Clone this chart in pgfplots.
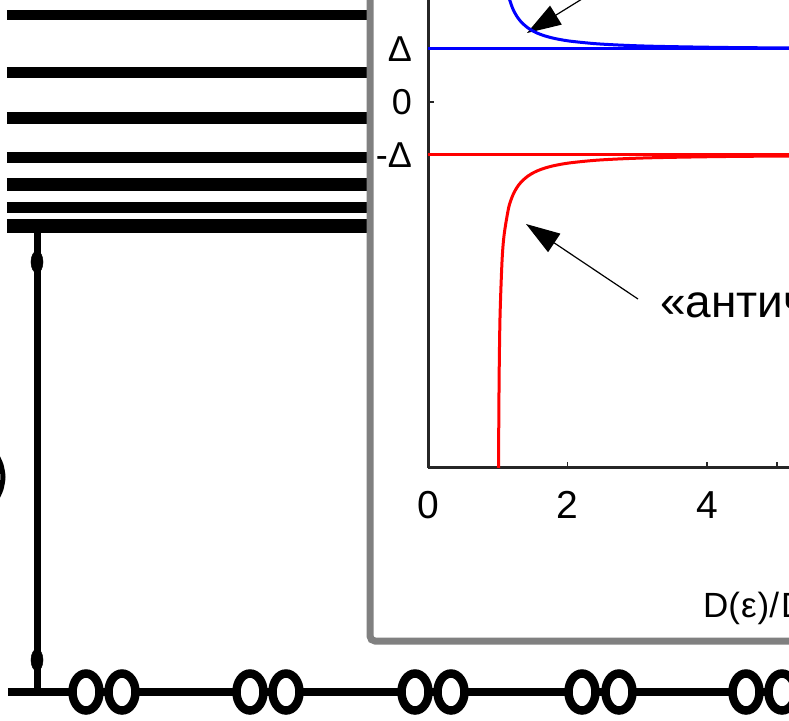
\documentclass[border=0pt]{standalone}
\usepackage{fontspec}
\setmainfont{Liberation Sans}
\usepackage{pgfplots}
\pgfplotsset{compat=1.18}
\usetikzlibrary{arrows.meta}
\definecolor{frame}{RGB}{128,128,128}
\definecolor{pblue}{RGB}{0,0,255}
\definecolor{pred}{RGB}{255,0,0}
\begin{document}
\begin{tikzpicture}
\useasboundingbox (0,0) rectangle (789pt,720pt);
\clip (0,0) rectangle (789pt,720pt);
% background (pixel coordinates)
\begin{axis}[at={(0pt,0pt)}, anchor=south west, scale only axis,
  width=789pt, height=720pt, xmin=0, xmax=789, ymin=0, ymax=720,
  y dir=reverse, axis lines=none, clip=false]
  % energy levels
  \addplot[black, line width=10pt] coordinates {(7,15) (400,15)};
  \addplot[black, line width=11pt] coordinates {(7,72) (400,72)};
  \addplot[black, line width=12pt] coordinates {(7,118) (400,118)};
  \addplot[black, line width=11pt] coordinates {(7,157) (400,157)};
  \addplot[black, line width=13pt] coordinates {(7,184) (400,184)};
  \addplot[black, line width=11pt] coordinates {(7,207) (400,207)};
  \addplot[black, line width=14pt] coordinates {(7,226) (400,226)};
  % vertical line
  \addplot[black, line width=7pt] coordinates {(37,226) (37,692)};
  \addplot[only marks, mark=*, mark size=11pt,
    mark options={fill=black, draw=black, xscale=0.55}]
    coordinates {(37,262) (37,660)};
  % bottom chain
  \addplot[black, line width=8pt] coordinates {(8,692) (800,692)};
  \addplot[only marks, mark=*, mark size=18.5pt,
    mark options={fill=white, draw=black, line width=8.5pt, xscale=0.73}]
    coordinates {(86,692) (122,692) (250,692) (286,692) (415,692) (451,692)
                 (582,692) (619,692) (746,692) (782,692)};
  % partial glyph at left edge
  \addplot[black, line width=5pt, smooth] coordinates {(-3,456) (1,465) (3,477) (1,489) (-3,498)};
  % inset frame
  \addplot[draw=frame, fill=white, line width=7pt, rounded corners=5pt]
    coordinates {(370,-30) (370,641) (830,641) (830,-30)} -- cycle;
  % annotations
  \addplot[black, line width=1.2pt, -{Triangle[length=34pt,width=22pt]}]
    coordinates {(645,-40) (527,33)};
  \addplot[black, line width=1.2pt, -{Triangle[length=34pt,width=22pt]}]
    coordinates {(638,299) (526,224)};
  \node[anchor=base west, inner sep=0pt, font=\fontsize{46}{50}\selectfont]
    at (axis cs:660,317) {«античастицы»};
  \node[anchor=base west, inner sep=0pt, font=\fontsize{35}{40}\selectfont]
    at (axis cs:703,617) {D(\kern1ptε\kern1pt)/\kern2ptD(0)};
\end{axis}
% inset plot
\begin{axis}[at={(428pt,252pt)}, anchor=south west, scale only axis,
  width=418.8pt, height=498.5pt,
  xmin=0, xmax=6, ymin=-6.906, ymax=2.5, clip=false,
  axis x line*=bottom, axis y line*=left,
  axis line style={line width=3pt, black!85},
  tick align=inside, major tick length=6pt,
  tick style={line width=1.5pt, black!85},
  xtick={0,2,4,5}, xticklabels={0,2,4,},
  ytick={-1,0,1}, yticklabels={-Δ,0,Δ},
  /pgf/number format/assume math mode=true,
  x tick label style={font=\fontsize{39}{42}\selectfont, inner sep=0pt, anchor=north, yshift=-23pt},
  y tick label style={font=\fontsize{36}{40}\selectfont, inner sep=0pt, anchor=east, xshift=-16pt},
  ]
  \addplot[pblue, line width=3pt] coordinates {(0,1) (6.5,1)};
  \addplot[pred, line width=3pt] coordinates {(0,-1) (6.5,-1)};
  \addplot[pblue, line width=3pt, smooth] coordinates {
    (1.1105,2.3) (1.1547,2.0) (1.2027,1.8) (1.2366,1.7) (1.2810,1.6) (1.3416,1.5)
    (1.4289,1.4) (1.4886,1.35) (1.5650,1.3) (1.6667,1.25) (1.8091,1.2) (2.0250,1.15)
    (2.4004,1.1) (2.8109,1.07) (3.2796,1.05) (4.1737,1.03) (5.0747,1.02)
    (5.8384,1.015) (7.124,1.01)};
  \addplot[pred, line width=3pt, smooth] coordinates {
    (1.0107,-6.906) (1.0142,-6) (1.0206,-5) (1.0328,-4) (1.0607,-3) (1.0911,-2.5)
    (1.1547,-2.0) (1.2027,-1.8) (1.2366,-1.7) (1.2810,-1.6) (1.3416,-1.5)
    (1.4289,-1.4) (1.4886,-1.35) (1.5650,-1.3) (1.6667,-1.25) (1.8091,-1.2) (2.0250,-1.15)
    (2.4004,-1.1) (2.8109,-1.07) (3.2796,-1.05) (4.1737,-1.03) (5.0747,-1.02)
    (5.8384,-1.015) (7.124,-1.01)};
\end{axis}
\end{tikzpicture}
\end{document}
